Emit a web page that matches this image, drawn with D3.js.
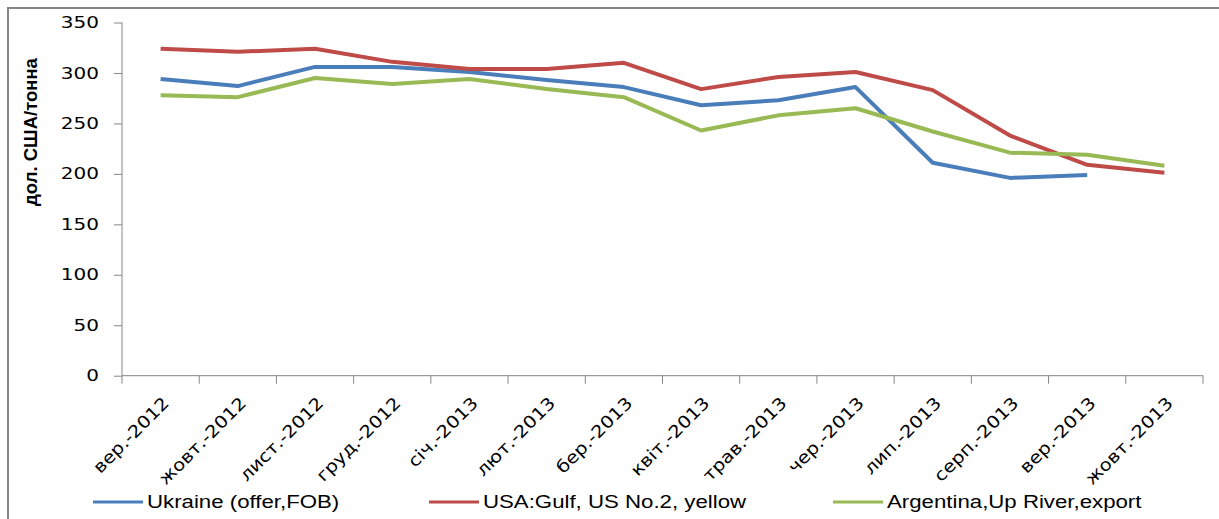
<!DOCTYPE html>
<html lang="uk">
<head>
<meta charset="utf-8">
<script src="https://d3js.org/d3.v7.min.js"></script>
<style>
  body { margin: 0; background: #fff; }
  text { fill: #000; }
</style>
</head>
<body>
<div id="chart"></div>
<script>
// categories and series (US$/tonne)
var months = ["вер.-2012", "жовт.-2012", "лист.-2012", "груд.-2012", "січ.-2013", "лют.-2013", "бер.-2013",
              "квіт.-2013", "трав.-2013", "чер.-2013", "лип.-2013", "серп.-2013", "вер.-2013", "жовт.-2013"];
var ukraine   = [294, 287, 306, 306, 301, 293, 286, 268, 273, 286, 211, 196, 199, null];
var usa       = [324, 321, 324, 311, 304, 304, 310, 284, 296, 301, 283, 238, 209, 201];
var argentina = [278, 276, 295, 289, 294, 284, 276, 243, 258, 265, 242, 221, 219, 208];
var yTicks = [0, 50, 100, 150, 200, 250, 300, 350];
var seriesNames = ["Ukraine (offer,FOB)", "USA:Gulf, US No.2, yellow", "Argentina,Up River,export"];

var W = 1219, H = 519;
var margin = {top: 22.5, left: 122, right: 16, bottom: 143.3};
var width = W - margin.left - margin.right,
    height = H - margin.top - margin.bottom;

var svg = d3.select("#chart").append("svg")
  .attr("width", W).attr("height", H);

// outer chart border
svg.append("rect")
  .attr("x", 8).attr("y", 8).attr("width", W + 20).attr("height", H + 20)
  .attr("fill", "none").attr("stroke", "#868686").attr("stroke-width", 2);

var g = svg.append("g").attr("transform", "translate(" + margin.left + "," + margin.top + ")");

var x = d3.scaleBand().domain(months).range([0, width]).padding(0);
var y = d3.scaleLinear().domain([0, 350]).range([height, 0]);

// y axis
var yAxis = g.append("g")
  .call(d3.axisLeft(y).tickValues(yTicks).tickSize(8).tickPadding(5));
yAxis.selectAll("line, path").attr("stroke", "#868686");
yAxis.select(".domain").attr("d", "M0," + y(0) + "V" + y(350));
yAxis.selectAll("text")
  .style("font-family", "DejaVu Sans").style("font-size", "16px")
  .attr("x", null)
  .attr("transform", "translate(-23,0) scale(1.25,1)");

// x axis line and boundary ticks
var xg = g.append("g").attr("transform", "translate(0," + height + ")");
xg.append("line").attr("x1", 0).attr("x2", width).attr("stroke", "#868686");
xg.selectAll(".bt")
  .data(months.concat(["end"]))
  .enter().append("line")
  .attr("x1", function(d) { return d === "end" ? width : x(d); })
  .attr("x2", function(d) { return d === "end" ? width : x(d); })
  .attr("y1", 0).attr("y2", 8)
  .attr("stroke", "#868686");

xg.selectAll(".lbl")
  .data(months)
  .enter().append("text")
  .attr("transform", function(d) {
    return "translate(" + (x(d) + x.bandwidth() / 2 + 1) + ",20) rotate(-45) scale(1.15,1)";
  })
  .attr("text-anchor", "end")
  .attr("dy", "0.71em")
  .style("font-family", "DejaVu Sans").style("font-size", "17px")
  .text(function(d) { return d; });

// y axis title
svg.append("text")
  .attr("transform", "translate(37,132) rotate(-90)")
  .attr("text-anchor", "middle")
  .style("font-family", "Liberation Sans").style("font-weight", "bold").style("font-size", "18.5px")
  .text("дол. США/тонна");

// lines
var colors = ["#4A7EBB", "#BE4B48", "#98B954"];
var series = [ukraine, usa, argentina];
var line = d3.line()
  .defined(function(d) { return d != null; })
  .x(function(d, i) { return x(months[i]) + x.bandwidth() / 2; })
  .y(function(d) { return y(d); });

g.selectAll(".series")
  .data(series)
  .enter().append("path")
  .attr("fill", "none")
  .attr("stroke", function(d, i) { return colors[i]; })
  .attr("stroke-width", 4)
  .attr("stroke-linejoin", "round")
  .attr("d", line);

// legend
var legendX = [93, 429, 833];
var leg = svg.selectAll(".leg")
  .data(seriesNames)
  .enter().append("g")
  .attr("transform", function(d, i) { return "translate(" + legendX[i] + ",502)"; });
leg.append("line")
  .attr("x1", 0).attr("x2", 50)
  .attr("stroke", function(d, i) { return colors[i]; })
  .attr("stroke-width", 3);
leg.append("text")
  .attr("transform", "translate(54,6) scale(1.27,1)")
  .style("font-family", "Liberation Sans").style("font-size", "17.5px")
  .text(function(d) { return d; });
</script>
</body>
</html>
